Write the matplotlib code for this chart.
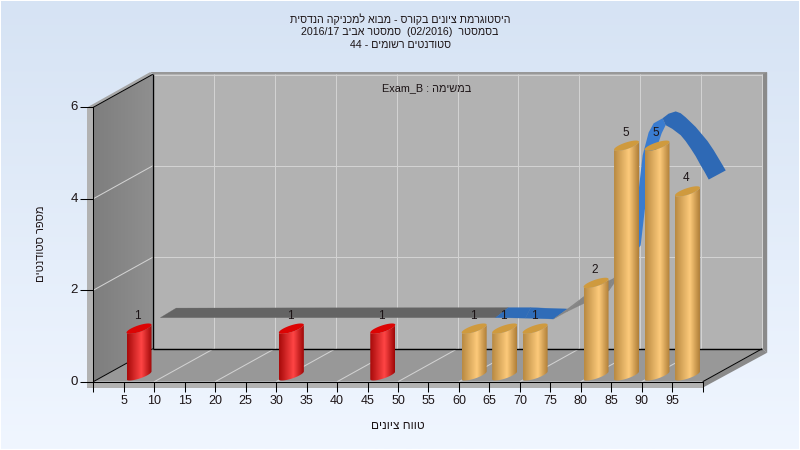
import re
import numpy as np
import matplotlib
matplotlib.use("Agg")
import matplotlib.pyplot as plt
from matplotlib.colors import LinearSegmentedColormap
from matplotlib.patches import Polygon
from matplotlib.path import Path
from matplotlib.transforms import Affine2D

# ---------- data ----------
bin_centres = [7.5, 32.5, 47.5, 62.5, 67.5, 72.5, 82.5, 87.5, 92.5, 97.5]
bin_counts = [1, 1, 1, 1, 1, 1, 2, 5, 5, 4]
pass_mark = 60
x_tick_values = list(range(0, 105, 5))
x_tick_labels = [""] + [str(v) for v in range(5, 100, 5)] + [""]
y_tick_values = [0, 2, 4, 6]

ribbon_front_x = [11.0, 66.0, 70.9, 75.5, 77.7, 80.5, 84.6, 87.9]
ribbon_front_y = [1.40, 1.40, 1.39, 1.37, 1.53, 1.71, 1.99, 2.61]
ribbon_back_x = [13.6, 68.1, 71.8, 77.8, 80.5, 83.3, 85.4, 88.5]
ribbon_back_y = [1.61, 1.62, 1.62, 1.59, 1.86, 2.12, 2.26, 2.98]
ribbon_segment_kind = ["flat", "under", "under", "rise", "rise", "rise", "rise"]
light_left_x = [89.16, 89.49, 90.15, 91.13, 91.95, 93.42]
light_left_y = [2.87, 4.18, 4.95, 5.45, 5.65, 5.76]
light_right_x = [89.82, 90.48, 91.46, 92.61, 93.26, 93.92]
light_right_y = [2.98, 3.74, 4.62, 5.17, 5.43, 5.61]
dark_top_x = [93.42, 94.40, 95.57, 96.39, 97.21, 98.85, 99.67, 100.8, 101.81, 102.8, 103.78]
dark_top_y = [5.76, 5.86, 5.91, 5.87, 5.78, 5.57, 5.44, 5.26, 5.06, 4.84, 4.62]
dark_bottom_x = [93.92, 95.0, 96.39, 97.2, 98.03, 98.85, 99.67, 100.3, 100.99]
dark_bottom_y = [5.61, 5.53, 5.39, 5.26, 5.10, 4.93, 4.73, 4.59, 4.42]

title_lines = ["היסטוגרמת ציונים בקורס - מבוא למכניקה הנדסית",
               "בסמסטר  (02/2016)  סמסטר אביב 2016/17",
               "סטודנטים רשומים - 44"]
task_label = "במשימה : Exam_B"
y_label = "מספר סטודנטים"
x_label = "טווח ציונים"

# ---------- helpers ----------
plt.rcParams["font.family"] = ["Liberation Sans", "DejaVu Sans"]


def visual(s):
    """matplotlib has no bidi layout: put the logical text in display order."""
    r = s[::-1].translate(str.maketrans("()", ")("))
    return re.sub(r"[0-9A-Za-z_/]+", lambda m: m.group(0)[::-1], r)


W, H = 800, 450
X0, X1, Y0, Y6 = 93.3, 702.7, 381.7, 107.3
DX, DY = 59.5, 33.0
TXT = "#1c1416"

fig = plt.figure(figsize=(W / 100, H / 100), dpi=100, facecolor="white")
px = Affine2D().scale(1, -1).translate(0, H)

bg = fig.add_axes([1 / W, 1 / H, (W - 2) / W, (H - 2) / H], zorder=0)
bg.imshow(np.linspace(0, 1, 256).reshape(-1, 1), aspect="auto",
          cmap=LinearSegmentedColormap.from_list("bg", ["#d6e3f4", "#f0f6ff"]))
bg.axis("off")

ax = fig.add_axes([X0 / W, 1 - Y0 / H, (X1 - X0) / W, (Y0 - Y6) / H], zorder=1)
ax.patch.set_visible(False)


def P(x, y, d=0.0):
    return (X0 + x * (X1 - X0) / 100 + DX * d, Y0 - y * (Y0 - Y6) / 6 - DY * d)


def poly(points, color, z=1):
    ax.add_patch(Polygon(points, closed=True, facecolor=color, edgecolor="none",
                         transform=px, zorder=z, clip_on=False))


def line(points, color, lw=0.75, z=2):
    xs, ys = zip(*points)
    ax.plot(xs, ys, color=color, lw=lw, transform=px, zorder=z, clip_on=False,
            solid_capstyle="butt", scalex=False, scaley=False)


# ---------- frame and walls ----------
tl, bl = P(0, 6), P(0, 0)
tr_b, br_b = P(100, 6, 1), P(100, 0, 1)
tl_b, bl_b = P(0, 6, 1), P(0, 0, 1)
br = P(100, 0)
poly([(tl[0] - 6, tl[1]), tl, tl_b, (tl_b[0] - 3, tl_b[1] - 2)], "#a6a6a6")
poly([(tl_b[0] - 3, tl_b[1] - 2), (tr_b[0] + 5, tr_b[1] - 2), (tr_b[0] + 5, tr_b[1]), tl_b], "#989898")
poly([tr_b, (tr_b[0] + 5, tr_b[1] - 2), (br_b[0] + 5, br_b[1] + 4), br_b], "#8a8a8a")
poly([br, br_b, (br_b[0] + 5, br_b[1] + 4), (br[0], br[1] + 6)], "#8a8a8a")
poly([(tl[0] - 6, tl[1]), tl, bl, br, (br[0], br[1] + 6), (bl[0] - 6, bl[1] + 6)], "#b2b2b2")
poly([tl_b, tr_b, br_b, bl_b], "#b2b2b2")
poly([bl, br, br_b, bl_b], "#989898")

# left wall with a soft horizontal gradient
ramp = LinearSegmentedColormap.from_list("wall", ["#7e7e7e", "#8f8f8f"])
wall = ax.imshow(np.linspace(0, 1, 64).reshape(1, -1), cmap=ramp, aspect="auto",
                 extent=(tl[0], tl_b[0], bl[1], tl_b[1]), transform=px, zorder=1.2)
wall.set_clip_box(fig.bbox)
wall.set_clip_path(Path([tl, tl_b, bl_b, bl, tl]), px)

# gridlines
GRID = "#d2d2d2"
for v in range(10, 100, 10):
    line([P(v, 0, 1), P(v, 6, 1)], GRID, z=1.5)
    line([P(v, 0), P(v, 0, 1)], GRID, z=1.5)
for v in [2, 4]:
    line([P(0, v, 1), P(100, v, 1)], GRID, z=1.5)
    line([P(0, v), P(0, v, 1)], GRID, z=1.5)
line([(tl_b[0], tl_b[1] + 0.5), (tr_b[0], tr_b[1] + 0.5)], GRID, z=1.5)
line([(tr_b[0] - 0.5, tr_b[1]), (br_b[0] - 0.5, br_b[1])], GRID, z=1.5)

# black wire edges
line([tl_b, bl_b], "black", 1.0)
line([bl_b, br_b], "black", 1.0)
line([tl, tl_b], "black", 0.7)
line([bl, bl_b], "black", 0.7)
line([br, br_b], "black", 0.7)

# ---------- ribbon ----------
kind_colour = {"flat": "#646464", "under": "#2f6cb8", "rise": "#858585"}
for i, kind in enumerate(ribbon_segment_kind):
    ax.add_patch(Polygon([(ribbon_front_x[i], ribbon_front_y[i]),
                          (ribbon_front_x[i + 1], ribbon_front_y[i + 1]),
                          (ribbon_back_x[i + 1], ribbon_back_y[i + 1]),
                          (ribbon_back_x[i], ribbon_back_y[i])],
                         facecolor=kind_colour[kind], edgecolor=kind_colour[kind], lw=0.2,
                         zorder=3, clip_on=False))
ax.add_patch(Polygon(list(zip(light_left_x, light_left_y)) + list(zip(light_right_x, light_right_y))[::-1],
                     facecolor="#3a7cd0", edgecolor="none", zorder=3, clip_on=False))
ax.add_patch(Polygon(list(zip(dark_top_x, dark_top_y)) + list(zip(dark_bottom_x, dark_bottom_y))[::-1],
                     facecolor="#2e69b5", edgecolor="none", zorder=3.1, clip_on=False))

# ---------- cylinders ----------
red_map = LinearSegmentedColormap.from_list("r", [(0, "#a80a0a"), (0.58, "#ff4545"), (1, "#a00808")])
gold_map = LinearSegmentedColormap.from_list("g", [(0, "#b98a42"), (0.6, "#fdca7a"), (1, "#b07f38")])
HALF, TILT, MINOR = 2.05, 0.085, 0.075
t_low = np.linspace(np.pi, 2 * np.pi, 40)
t_all = np.linspace(0, 2 * np.pi, 60)
for c, v in zip(bin_centres, bin_counts):
    failing = c < pass_mark
    yb, yt = 0.14, v + 0.16
    bx = c + HALF * np.cos(t_low)
    by_low = yb + TILT * np.cos(t_low) + MINOR * np.sin(t_low)
    ty_low = yt + TILT * np.cos(t_low) + MINOR * np.sin(t_low)
    verts = list(zip(bx, by_low)) + list(zip(bx[::-1], ty_low[::-1])) + [(bx[0], by_low[0])]
    im = ax.imshow(np.linspace(0, 1, 64).reshape(1, -1), aspect="auto",
                   cmap=red_map if failing else gold_map,
                   extent=(c - HALF, c + HALF, yb - 0.2, yt + 0.2), zorder=4)
    im.set_clip_path(Path(verts), ax.transData)
    cap = list(zip(c + HALF * np.cos(t_all), yt + TILT * np.cos(t_all) + MINOR * np.sin(t_all)))
    ax.add_patch(Polygon(cap, facecolor="#dc0404" if failing else "#cf9a3e", edgecolor="none", zorder=4.1))
    ax.text(c - 0.2, v + 0.445, str(v), ha="center", va="center", fontsize=8.5, color=TXT, zorder=5)

# ---------- axes ----------
ax.set_xlim(0, 100)
ax.set_ylim(0, 6)
ax.set_xticks(x_tick_values, x_tick_labels, fontsize=9, color=TXT)
ax.set_yticks(y_tick_values, [str(v) for v in y_tick_values], fontsize=9.5, color=TXT)
ax.tick_params(axis="x", length=7.4, width=0.75, pad=2.2)
ax.tick_params(axis="y", length=9.4, width=0.75, pad=1.5)
for tick in ax.yaxis.get_major_ticks():
    tick.label1.set_transform(tick.label1.get_transform() + Affine2D().translate(0, 1.5))
for s in ["top", "right"]:
    ax.spines[s].set_visible(False)
for s in ["left", "bottom"]:
    ax.spines[s].set_linewidth(0.75)
    ax.spines[s].set_zorder(3.5)

# ---------- text ----------
for line_text, y in zip(title_lines, [19, 32, 45]):
    fig.text(400 / W, 1 - y / H, visual(line_text), ha="center", va="center", fontsize=7.7, color=TXT)
fig.text(427 / W, 1 - 88 / H, visual(task_label), ha="center", va="center", fontsize=7.8, color=TXT)
fig.text(41 / W, 1 - 244 / H, visual(y_label), rotation=90, ha="center", va="center", fontsize=8.0, color=TXT)
fig.text(398 / W, 1 - 426 / H, visual(x_label), ha="center", va="center", fontsize=8.6, color=TXT)

fig.savefig("out.png", dpi=100, facecolor="white")
